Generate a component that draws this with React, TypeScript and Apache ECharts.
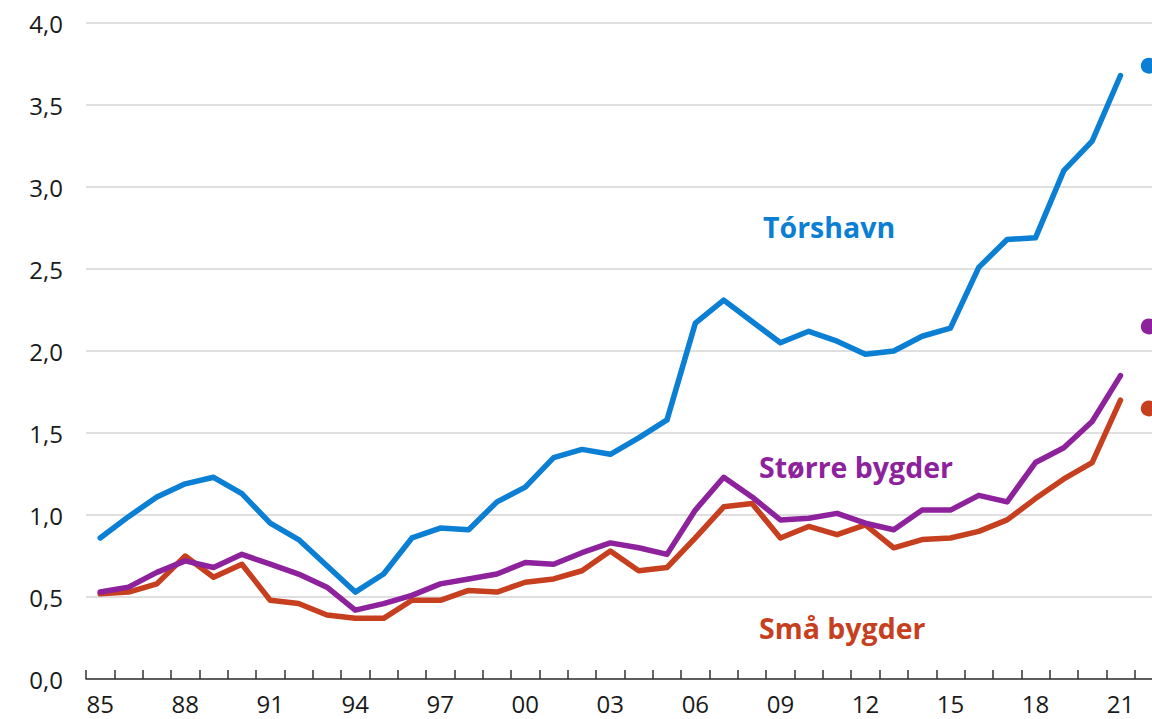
import React, { useEffect, useRef } from "react";
import * as echarts from "echarts";

const years = [
  "1985","1986","1987","1988","1989","1990","1991","1992","1993","1994",
  "1995","1996","1997","1998","1999","2000","2001","2002","2003","2004",
  "2005","2006","2007","2008","2009","2010","2011","2012","2013","2014",
  "2015","2016","2017","2018","2019","2020","2021","2022",
];

const torshavn = [
  0.86, 0.99, 1.11, 1.19, 1.23, 1.13, 0.95, 0.85, 0.69, 0.53,
  0.64, 0.86, 0.92, 0.91, 1.08, 1.17, 1.35, 1.40, 1.37, 1.47,
  1.58, 2.17, 2.31, 2.18, 2.05, 2.12, 2.06, 1.98, 2.00, 2.09,
  2.14, 2.51, 2.68, 2.69, 3.10, 3.28, 3.68,
];

const storreBygder = [
  0.53, 0.56, 0.65, 0.72, 0.68, 0.76, 0.70, 0.64, 0.56, 0.42,
  0.46, 0.51, 0.58, 0.61, 0.64, 0.71, 0.70, 0.77, 0.83, 0.80,
  0.76, 1.03, 1.23, 1.11, 0.97, 0.98, 1.01, 0.95, 0.91, 1.03,
  1.03, 1.12, 1.08, 1.32, 1.41, 1.57, 1.85,
];

const smaBygder = [
  0.52, 0.53, 0.58, 0.75, 0.62, 0.70, 0.48, 0.46, 0.39, 0.37,
  0.37, 0.48, 0.48, 0.54, 0.53, 0.59, 0.61, 0.66, 0.78, 0.66,
  0.68, 0.86, 1.05, 1.07, 0.86, 0.93, 0.88, 0.94, 0.80, 0.85,
  0.86, 0.90, 0.97, 1.10, 1.22, 1.32, 1.70,
];

const estimate2022 = [3.74, 2.15, 1.65];

const seriesNames = ["Tórshavn", "Større bygder", "Små bygder"];
const colors = ["#0a7fd3", "#8d229c", "#c63f1f"];

export default function App() {
  const ref = useRef<HTMLDivElement>(null);

  useEffect(() => {
    if (!ref.current) return;
    const chart = echarts.init(ref.current, null, { renderer: "svg" });
    const lineData = [torshavn, storreBygder, smaBygder];
    const series: any[] = [];
    lineData.forEach((d, i) => {
      series.push({
        name: seriesNames[i],
        type: "line",
        data: d,
        symbol: "none",
        lineStyle: { width: 5.5, color: colors[i], cap: "round", join: "round" },
        z: 5 - i,
      });
    });
    estimate2022.forEach((v, i) => {
      series.push({
        name: seriesNames[i] + " 2022",
        type: "scatter",
        data: [[years[years.length - 1], v]],
        symbol: "circle",
        symbolSize: 16,
        itemStyle: { color: colors[i], opacity: 1 },
        z: 6,
      });
    });

    chart.setOption({
      animation: false,
      backgroundColor: "#ffffff",
      grid: { left: 86, top: 23, width: 1077, height: 656 },
      xAxis: {
        type: "category",
        data: years,
        boundaryGap: true,
        axisLine: { show: true, lineStyle: { color: "#333333", width: 1.5 } },
        axisTick: {
          show: true,
          inside: true,
          length: 9,
          interval: 0,
          lineStyle: { color: "#333333", width: 1.5 },
        },
        axisLabel: {
          interval: 2,
          margin: 12,
          fontSize: 24,
          color: "#1a1a1a",
          fontFamily: "Open Sans",
          formatter: (v: string) => v.slice(2),
        },
        splitLine: { show: false },
      },
      yAxis: {
        type: "value",
        min: 0,
        max: 4,
        interval: 0.5,
        axisLine: { show: false },
        axisTick: { show: false },
        axisLabel: {
          margin: 23,
          fontSize: 24,
          color: "#1a1a1a",
          fontFamily: "Open Sans",
          formatter: (v: number) => v.toFixed(1).replace(".", ","),
        },
        splitLine: { show: true, lineStyle: { color: "#d4d4d4", width: 1.5 } },
      },
      graphic: [
        {
          type: "text",
          left: 763,
          top: 212,
          style: {
            text: seriesNames[0],
            fill: colors[0],
            font: "bold 28.5px 'Open Sans'",
          },
        },
        {
          type: "text",
          left: 759,
          top: 452,
          style: {
            text: seriesNames[1],
            fill: colors[1],
            font: "bold 28.5px 'Open Sans'",
          },
        },
        {
          type: "text",
          left: 759,
          top: 613,
          style: {
            text: seriesNames[2],
            fill: colors[2],
            font: "bold 28.5px 'Open Sans'",
          },
        },
      ],
      series,
    });

    return () => chart.dispose();
  }, []);

  return (
    <div
      style={{ position: "fixed", left: 0, top: 0, width: 1152, height: 719, overflow: "hidden" }}
    >
      <div ref={ref} style={{ position: "absolute", left: 0, top: 0, width: 1200, height: 719 }} />
    </div>
  );
}
